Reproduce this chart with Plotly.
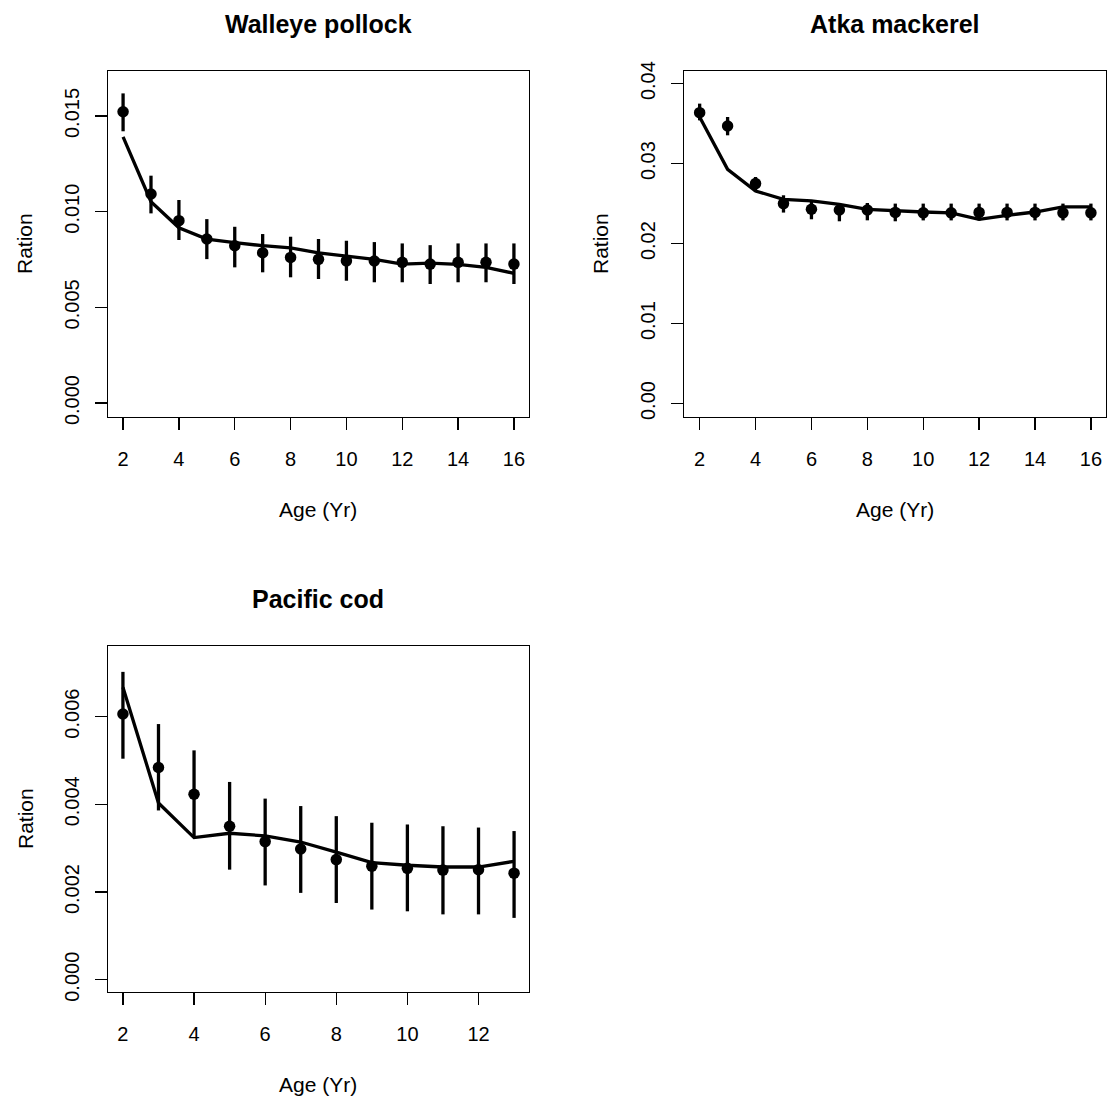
import plotly.graph_objects as go

# ---------------- data ----------------
wp_age = list(range(2, 17))
wp_obs = [0.01522, 0.01092, 0.00953, 0.00857, 0.00822, 0.00785, 0.00761, 0.00751,
          0.00743, 0.00742, 0.00735, 0.00726, 0.00735, 0.00735, 0.00726]
wp_lo = [0.01420, 0.00991, 0.00852, 0.00752, 0.00709, 0.00683, 0.00657, 0.00648,
         0.00639, 0.00631, 0.00631, 0.00622, 0.00631, 0.00631, 0.00622]
wp_hi = [0.01618, 0.01188, 0.01061, 0.00961, 0.00921, 0.00883, 0.00869, 0.00857,
         0.00848, 0.00841, 0.00834, 0.00825, 0.00834, 0.00834, 0.00834]
wp_fit = [0.01391, 0.01052, 0.00916, 0.00857, 0.00838, 0.00822, 0.00811, 0.00785,
          0.00768, 0.00751, 0.00726, 0.00731, 0.00725, 0.00709, 0.00678]

am_age = list(range(2, 17))
am_obs = [0.03637, 0.03470, 0.02750, 0.02500, 0.02430, 0.02420, 0.02420, 0.02390,
          0.02385, 0.02385, 0.02390, 0.02390, 0.02390, 0.02385, 0.02385]
am_lo = [0.03541, 0.03354, 0.02645, 0.02388, 0.02304, 0.02279, 0.02291, 0.02279,
         0.02290, 0.02290, 0.02290, 0.02290, 0.02290, 0.02290, 0.02290]
am_hi = [0.03750, 0.03583, 0.02833, 0.02604, 0.02520, 0.02508, 0.02508, 0.02500,
         0.02500, 0.02500, 0.02500, 0.02500, 0.02500, 0.02500, 0.02500]
am_fit = [0.03583, 0.02929, 0.02658, 0.02554, 0.02533, 0.02491, 0.02429, 0.02408,
          0.02395, 0.02383, 0.02304, 0.02354, 0.02395, 0.02458, 0.02458]

pc_age = list(range(2, 14))
pc_obs = [0.00606, 0.00484, 0.00423, 0.00350, 0.00315, 0.00298, 0.00274, 0.00259,
          0.00254, 0.00250, 0.00251, 0.00243]
pc_lo = [0.00504, 0.00386, 0.00324, 0.00251, 0.00215, 0.00198, 0.00175, 0.00160,
         0.00156, 0.00149, 0.00149, 0.00141]
pc_hi = [0.00702, 0.00583, 0.00523, 0.00451, 0.00413, 0.00396, 0.00373, 0.00358,
         0.00354, 0.00350, 0.00347, 0.00339]
pc_fit = [0.00667, 0.00403, 0.00324, 0.00334, 0.00328, 0.00314, 0.00291, 0.00267,
          0.00261, 0.00257, 0.00257, 0.00270]

titles = ["Walleye pollock", "Atka mackerel", "Pacific cod"]
x_label = "Age (Yr)"
y_label = "Ration"
wp_yticks = [0.0, 0.005, 0.010, 0.015]
wp_yticklabels = ["0.000", "0.005", "0.010", "0.015"]
am_yticks = [0.0, 0.01, 0.02, 0.03, 0.04]
am_yticklabels = ["0.00", "0.01", "0.02", "0.03", "0.04"]
pc_yticks = [0.0, 0.002, 0.004, 0.006]
pc_yticklabels = ["0.000", "0.002", "0.004", "0.006"]
wp_xticks = [2, 4, 6, 8, 10, 12, 14, 16]
pc_xticks = [2, 4, 6, 8, 10, 12]

# ---------------- layout geometry (pixels, in the window) ----------------
W, H = 1107, 1101
FONT = "Liberation Sans, Arial, Helvetica, sans-serif"


def fx(px):
    return px / W


def fy(py):
    return 1 - py / H


panels = [
    dict(age=wp_age, obs=wp_obs, lo=wp_lo, hi=wp_hi, fit=wp_fit,
         box=(108, 529, 71, 417), xr=[1.46, 16.54], yr=[-0.00073, 0.01735],
         yt=wp_yticks, ytl=wp_yticklabels, xt=wp_xticks, title=titles[0]),
    dict(age=am_age, obs=am_obs, lo=am_lo, hi=am_hi, fit=am_fit,
         box=(684, 1106, 71, 417), xr=[1.44, 16.54], yr=[-0.00168, 0.04158],
         yt=am_yticks, ytl=am_yticklabels, xt=wp_xticks, title=titles[1]),
    dict(age=pc_age, obs=pc_obs, lo=pc_lo, hi=pc_hi, fit=pc_fit,
         box=(108, 529, 646, 992), xr=[1.58, 13.42], yr=[-0.00028, 0.00761],
         yt=pc_yticks, ytl=pc_yticklabels, xt=pc_xticks, title=titles[2]),
]

fig = go.Figure()
annotations = []
for i, p in enumerate(panels, start=1):
    xa = "x" if i == 1 else f"x{i}"
    ya = "y" if i == 1 else f"y{i}"
    l, r, t, b = p["box"]
    fig.add_trace(go.Scatter(
        x=p["age"], y=p["fit"], mode="lines", xaxis=xa, yaxis=ya,
        line=dict(color="black", width=3.3), showlegend=False, hoverinfo="skip"))
    fig.add_trace(go.Scatter(
        x=p["age"], y=p["obs"], mode="markers", xaxis=xa, yaxis=ya,
        marker=dict(color="black", size=11.5),
        error_y=dict(type="data", symmetric=False,
                     array=[h - o for h, o in zip(p["hi"], p["obs"])],
                     arrayminus=[o - lo for o, lo in zip(p["obs"], p["lo"])],
                     color="black", thickness=3.3, width=0),
        showlegend=False))
    axis_common = dict(showgrid=False, zeroline=False, showline=True, mirror=True,
                       linecolor="black", linewidth=1.3, ticks="outside", ticklen=12,
                       tickwidth=1.3, tickcolor="black", automargin=False,
                       tickfont=dict(family=FONT, size=20, color="black"))
    fig.layout[f"xaxis{i}" if i > 1 else "xaxis"] = dict(
        domain=[fx(l), fx(r)], anchor=ya, range=p["xr"], tickvals=p["xt"],
        ticklabelstandoff=12, **axis_common)
    fig.layout[f"yaxis{i}" if i > 1 else "yaxis"] = dict(
        domain=[fy(b), fy(t)], anchor=xa, range=p["yr"], tickvals=p["yt"],
        ticktext=p["ytl"], tickangle=-90, ticklabelstandoff=8, **axis_common)
    cx = (l + r) / 2
    cy = (t + b) / 2
    annotations.append(dict(text=f"<b>{p['title']}</b>", x=fx(cx), y=fy(t - 47),
                            xref="paper", yref="paper", showarrow=False,
                            xanchor="center", yanchor="middle",
                            font=dict(family=FONT, size=25, color="black")))
    annotations.append(dict(text=x_label, x=fx(cx), y=fy(b + 92),
                            xref="paper", yref="paper", showarrow=False,
                            xanchor="center", yanchor="middle",
                            font=dict(family=FONT, size=21, color="black")))
    annotations.append(dict(text=y_label, x=fx(l - 83), y=fy(cy),
                            xref="paper", yref="paper", showarrow=False, textangle=-90,
                            xanchor="center", yanchor="middle",
                            font=dict(family=FONT, size=21, color="black")))

fig.update_layout(template="none", width=W, height=H,
                  margin=dict(l=0, r=0, t=0, b=0, pad=0),
                  paper_bgcolor="white", plot_bgcolor="white",
                  annotations=annotations, font=dict(family=FONT, color="black"))
fig.write_html("out.html",
               config={"displayModeBar": False, "staticPlot": True},
               post_script="document.body.style.margin='0';"
                           "document.documentElement.style.overflow='hidden';")
